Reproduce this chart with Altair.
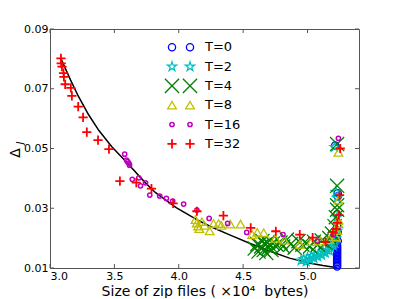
import altair as alt
import pandas as pd

series = ["T=0", "T=2", "T=4", "T=8", "T=16", "T=32"]
colors = ["#0000ff", "#00bfbf", "#008000", "#bfbf00", "#bf00bf", "#ff0000"]

t0_x = [5.23, 5.23, 5.23, 5.23, 5.23, 5.23, 5.23, 5.23, 5.23, 5.23, 5.23, 5.23, 5.23, 5.23, 5.23,
        5.235, 5.225, 5.235, 5.23, 5.23, 5.235, 5.235, 5.215]
t0_y = [0.0105, 0.011, 0.0115, 0.012, 0.0125, 0.013, 0.0135, 0.014, 0.0145, 0.015, 0.0155, 0.016,
        0.0165, 0.017, 0.0175, 0.019, 0.0205, 0.022, 0.024, 0.028, 0.034, 0.035, 0.051]

t2_x = [4.95, 4.97, 4.99, 5.00, 5.02, 5.03, 5.05, 5.06, 5.08, 5.09, 5.11, 5.12, 5.14, 5.15, 5.17,
        5.18, 5.20, 5.21, 5.22, 5.23, 5.23, 5.23, 5.22, 5.21]
t2_y = [0.0125, 0.0130, 0.0122, 0.0135, 0.0128, 0.0140, 0.0133, 0.0145, 0.0138, 0.0150, 0.0143,
        0.0155, 0.0150, 0.0160, 0.0158, 0.0168, 0.0175, 0.0185, 0.0200, 0.0225, 0.0270, 0.0335,
        0.0355, 0.0505]

t4_x = [4.59, 4.61, 4.62, 4.64, 4.65, 4.66, 4.67, 4.68, 4.69, 4.70, 4.71, 4.72, 4.73, 4.76, 4.79,
        4.81, 4.84, 4.87, 4.90, 4.93, 4.96, 4.99, 5.02, 5.05, 5.08, 5.11, 5.14, 5.17, 5.19, 5.21,
        5.22, 5.23, 5.23, 5.23, 5.23]
t4_y = [0.0165, 0.0180, 0.0155, 0.0172, 0.0190, 0.0160, 0.0178, 0.0150, 0.0185, 0.0168, 0.0175,
        0.0160, 0.0182, 0.0178, 0.0185, 0.0172, 0.0195, 0.0180, 0.0168, 0.0190, 0.0178, 0.0182,
        0.0172, 0.0188, 0.0178, 0.0192, 0.0185, 0.0200, 0.0215, 0.0240, 0.0270, 0.0295, 0.0310,
        0.0375, 0.0515]

t8_x = [4.13, 4.14, 4.15, 4.16, 4.18, 4.20, 4.24, 4.27, 4.31, 4.33, 4.40, 4.48, 4.57, 4.61, 4.66,
        4.75, 4.82, 4.94, 5.03, 5.10, 5.17, 5.22, 5.23, 5.24, 5.24, 5.24, 5.24]
t8_y = [0.0262, 0.0250, 0.0240, 0.0232, 0.0255, 0.0243, 0.0224, 0.0249, 0.0249, 0.0243, 0.0247,
        0.0247, 0.0212, 0.0219, 0.0218, 0.0199, 0.0193, 0.0179, 0.0188, 0.0190, 0.0196, 0.0204,
        0.0225, 0.0249, 0.0260, 0.0327, 0.0487]

t16_x = [3.58, 3.595, 3.603, 3.613, 3.618, 3.639, 3.69, 3.703, 3.742, 3.775, 3.852, 3.904, 3.953,
         4.038, 4.141, 4.236, 4.38, 4.528, 4.81, 5.077, 5.20, 5.24]
t16_y = [0.0481, 0.0461, 0.0456, 0.0450, 0.0444, 0.0397, 0.0402, 0.0375, 0.0385, 0.0344, 0.0341,
         0.0333, 0.0324, 0.0314, 0.0294, 0.0266, 0.0249, 0.0219, 0.0212, 0.0190, 0.0212, 0.0534]

t32_x = [3.085, 3.087, 3.093, 3.105, 3.108, 3.118, 3.162, 3.17, 3.219, 3.257, 3.286, 3.373, 3.458,
         3.543, 3.67, 3.788, 3.956, 4.141, 4.347, 4.559, 4.754, 4.94, 5.04, 5.14, 5.197, 5.223,
         5.231, 5.243, 5.249, 5.254]
t32_y = [0.0802, 0.0785, 0.0774, 0.0752, 0.0740, 0.0715, 0.0703, 0.0676, 0.0640, 0.0604, 0.0555,
         0.0528, 0.0498, 0.0391, 0.0386, 0.0366, 0.0316, 0.0290, 0.0275, 0.0234, 0.0223, 0.0212,
         0.0202, 0.0187, 0.0221, 0.0230, 0.0251, 0.0277, 0.0344, 0.0500]

fit_x = [3.09, 3.16, 3.22, 3.30, 3.38, 3.48, 3.58, 3.65, 3.73, 3.82, 3.98, 4.14, 4.25, 4.40, 4.55,
         4.71, 4.86, 5.02, 5.12, 5.23]
fit_y = [0.0796, 0.0729, 0.0675, 0.0613, 0.0560, 0.0506, 0.0461, 0.0428, 0.0390, 0.0352, 0.0302,
         0.0262, 0.0238, 0.0210, 0.0183, 0.0156, 0.0133, 0.0116, 0.0108, 0.0101]

x_ticks = [3.0, 3.5, 4.0, 4.5, 5.0]
y_ticks = [0.01, 0.03, 0.05, 0.07, 0.09]

xs = [t0_x, t2_x, t4_x, t8_x, t16_x, t32_x]
ys = [t0_y, t2_y, t4_y, t8_y, t16_y, t32_y]

W, H = 309, 239
FONT = "DejaVu Sans"

star = ("M0,-1L0.223,-0.307L0.951,-0.309L0.361,0.117L0.588,0.809L0,0.38L-0.588,0.809"
        "L-0.361,0.117L-0.951,-0.309L-0.223,-0.307Z")
shapes = ["circle", star, "M-1,-1L1,1M-1,1L1,-1", "triangle-up", "circle", "M-1,0L1,0M0,-1L0,1"]
sizes = [52, 95, 200, 75, 18, 85]
widths = [1.3, 1.2, 1.3, 1.3, 1.5, 1.8]

xscale = alt.Scale(domain=[3.0, 5.4], nice=False, zero=False)
yscale = alt.Scale(domain=[0.01, 0.09], nice=False, zero=False)

fit = pd.DataFrame({"x": fit_x, "y": fit_y})
line = alt.Chart(fit).mark_line(color="black", strokeWidth=1.5).encode(
    x=alt.X("x:Q", scale=xscale,
            axis=alt.Axis(values=x_ticks, format=".1f",
                          title="Size of zip files ( ×10⁴\u00a0\u00a0bytes)")),
    y=alt.Y("y:Q", scale=yscale, axis=alt.Axis(values=y_ticks, format=".2f", title=None)),
)

point_layers = []
legend_layers = []
for i, name in enumerate(series):
    sty = dict(filled=False, opacity=1, color=colors[i], shape=shapes[i], size=sizes[i],
               strokeWidth=widths[i])
    d = pd.DataFrame({"x": xs[i], "y": ys[i]})
    point_layers.append(alt.Chart(d).mark_point(**sty).encode(
        x=alt.X("x:Q", scale=xscale), y=alt.Y("y:Q", scale=yscale)))
    ld = pd.DataFrame({"series": [name]})
    yy = 18.3 + 19.3 * i
    for mx in (122, 140):
        legend_layers.append(alt.Chart(ld).mark_point(**sty).encode(
            x=alt.value(mx), y=alt.value(yy)))
    legend_layers.append(alt.Chart(ld).mark_text(
        align="left", baseline="middle", font=FONT, fontSize=13, color="black").encode(
        x=alt.value(155), y=alt.value(yy), text="series:N"))

xt = pd.DataFrame({"v": x_ticks})
yt = pd.DataFrame({"v": y_ticks})
tick_col = "#555555"
ticks = [
    alt.Chart(xt).mark_rule(color=tick_col).encode(
        x=alt.X("v:Q", scale=xscale), y=alt.value(H), y2=alt.value(H - 4)),
    alt.Chart(xt).mark_rule(color=tick_col).encode(
        x=alt.X("v:Q", scale=xscale), y=alt.value(0), y2=alt.value(4)),
    alt.Chart(yt).mark_rule(color=tick_col).encode(
        y=alt.Y("v:Q", scale=yscale), x=alt.value(0), x2=alt.value(4)),
    alt.Chart(yt).mark_rule(color=tick_col).encode(
        y=alt.Y("v:Q", scale=yscale), x=alt.value(W), x2=alt.value(W - 4)),
]

ylab = alt.Chart(pd.DataFrame({"t": ["Δ"]})).mark_text(
    font=FONT, fontSize=14, angle=270, color="black", align="center", baseline="middle").encode(
    x=alt.value(-34), y=alt.value(124), text="t:N")
ylab_sub = alt.Chart(pd.DataFrame({"t": ["J"]})).mark_text(
    font=FONT, fontSize=9, angle=270, color="black", align="center", baseline="middle",
    fontStyle="italic").encode(
    x=alt.value(-30), y=alt.value(114), text="t:N")

chart = alt.layer(line, *point_layers, *ticks, *legend_layers, ylab, ylab_sub).properties(
    width=W, height=H,
    autosize="none",
    padding={"left": 42, "top": 21, "right": 30, "bottom": 30},
).configure_view(
    stroke="#555555", strokeWidth=1
).configure_axis(
    domain=False, ticks=False, grid=False,
    labelFont=FONT, labelFontSize=11, labelColor="black", labelPadding=2,
    titleFont=FONT, titleFontSize=14, titleColor="black", titleFontWeight="normal",
    titlePadding=3,
)

chart.save("out.html", embed_options={"renderer": "svg", "actions": False})
